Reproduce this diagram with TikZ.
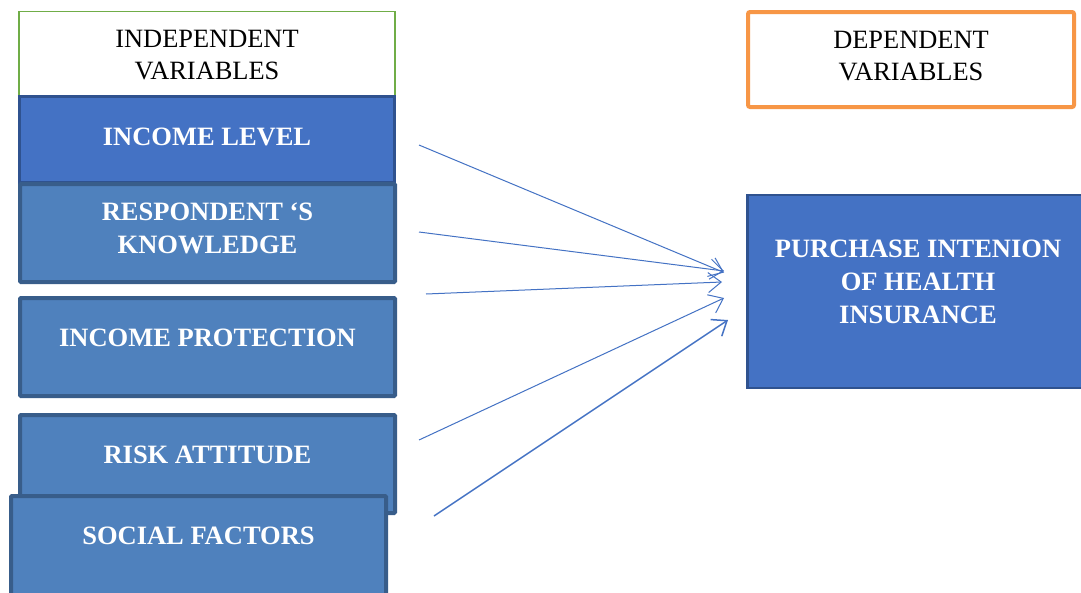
\documentclass[tikz,border=0pt]{standalone}
\usepackage{fontspec}
\setmainfont{Liberation Serif}
\usetikzlibrary{arrows.meta}
\definecolor{hdgreen}{HTML}{70AD47}
\definecolor{hdorange}{HTML}{F79646}
\definecolor{darkfill}{HTML}{4472C4}
\definecolor{darkedge}{HTML}{2F528F}
\definecolor{boxfill}{HTML}{4F81BD}
\definecolor{boxedge}{HTML}{385D8A}

\begin{document}
\begin{tikzpicture}[x=1pt,y=-1pt,
    headbox/.style={draw,fill=white,inner sep=0pt},
    varbox/.style={draw=boxedge,fill=boxfill,line width=4pt,rounded corners=1pt,
      inner sep=0pt,minimum width=375pt,minimum height=98pt},
    mainbox/.style={draw=darkedge,fill=darkfill,line width=2.5pt,inner sep=0pt},
    headtext/.style={align=center,font=\fontsize{26.4}{32}\selectfont},
    vartext/.style={align=center,text=white,font=\fontsize{26.5}{33}\selectfont\bfseries},
    link/.style={draw=darkfill,line width=1pt,-{Straight Barb[length=13pt,width=20pt]}}]
  \clip (0,0) rectangle (1081,592);
  \fill[white] (0,0) rectangle (1081,592);

  % independent side
  \node[headbox,draw=hdgreen,line width=1.5pt,minimum width=376pt,minimum height=85pt] (indhead) at (207,54) {};
  \node[headtext] (indtext) at ([yshift=-1pt]indhead.center) {INDEPENDENT\\VARIABLES};
  \node[mainbox,minimum width=375pt,minimum height=86pt] (income) at (207,139.5) {};
  \node[vartext] (incometext) at ([yshift=3pt]income.center) {INCOME LEVEL};
  \node[varbox] (resp) at (207.5,233) {};
  \node[vartext] (resptext) at ([yshift=5pt]resp.center) {RESPONDENT ‘S\\KNOWLEDGE};
  \node[varbox] (protect) at (207.5,347) {};
  \node[vartext] (protecttext) at ([yshift=9pt]protect.center) {INCOME PROTECTION};
  \node[varbox] (risk) at (207.5,464) {};
  \node[vartext] (risktext) at ([yshift=9pt]risk.center) {RISK ATTITUDE};
  \node[varbox,minimum height=102pt] (social) at (198.5,547) {};
  \node[vartext] (socialtext) at ([yshift=11pt]social.center) {SOCIAL FACTORS};

  % dependent side
  \node[headbox,draw=hdorange,line width=4pt,rounded corners=2pt,minimum width=326pt,minimum height=95pt] (dephead) at (911,59.5) {};
  \node[headtext] (deptext) at ([yshift=3.5pt]dephead.center) {DEPENDENT\\VARIABLES};
  \node[mainbox,minimum width=347pt,minimum height=193pt] (purchase) at (921,291.5) {};
  \node[vartext] (purchasetext) at ([xshift=-3pt,yshift=10pt]purchase.center) {PURCHASE INTENION\\OF HEALTH\\INSURANCE};

  % arrows
  \coordinate (s1) at (419,145);  \coordinate (e1) at (724,272.5);
  \coordinate (s2) at (419,232);  \coordinate (e2) at (724,271);
  \coordinate (s3) at (426,294);  \coordinate (e3) at (722,282);
  \coordinate (s4) at (419,440);  \coordinate (e4) at (724,298);
  \coordinate (s5) at (434,516);  \coordinate (e5) at (728,320);
  \draw[link] (s1) -- (e1);
  \draw[link] (s2) -- (e2);
  \draw[link] (s3) -- (e3);
  \draw[link] (s4) -- (e4);
  \draw[link,line width=1.5pt] (s5) -- (e5);
\end{tikzpicture}
\end{document}
